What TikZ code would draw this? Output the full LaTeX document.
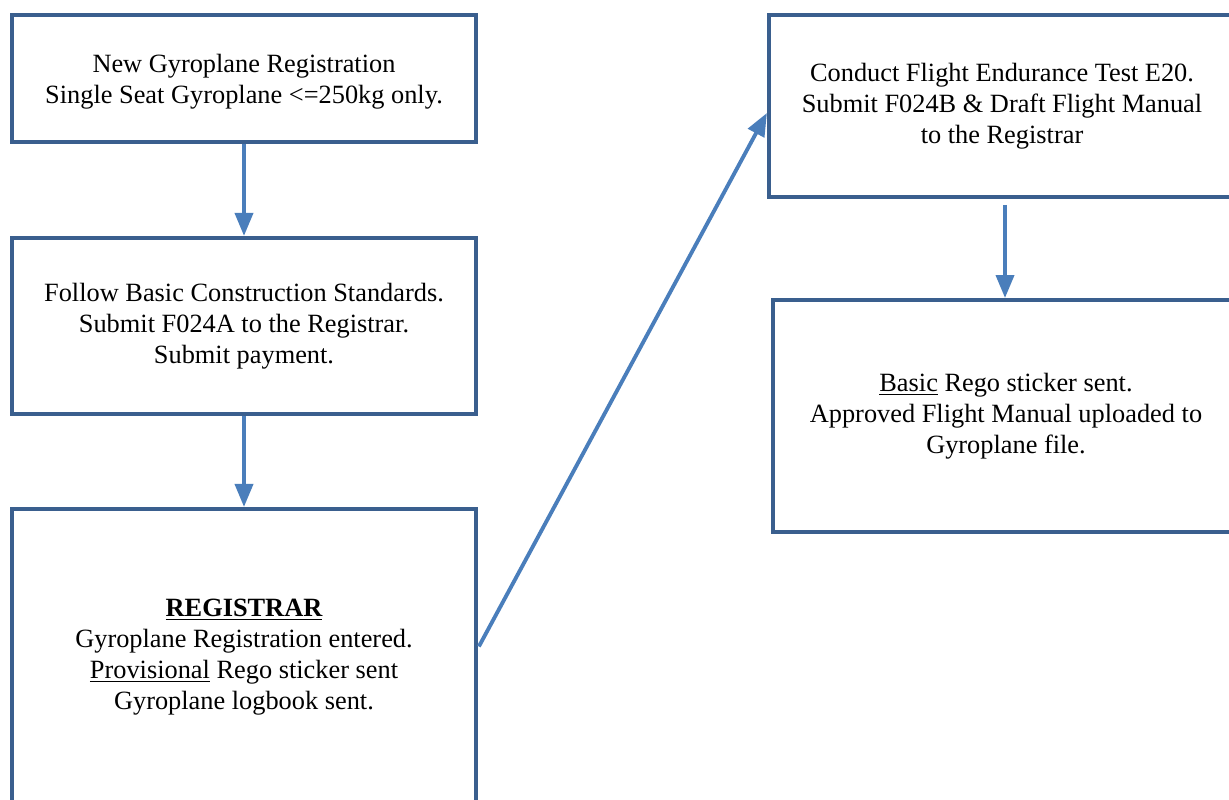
\documentclass[tikz,border=0pt]{standalone}
\usepackage{fontspec}
\setmainfont{Liberation Serif}
\usetikzlibrary{arrows.meta}
\definecolor{boxblue}{HTML}{3A5F8E}
\definecolor{arrowblue}{HTML}{4A7EBB}
\tikzset{
  stepbox/.style={draw=boxblue, line width=2.4pt, align=center, inner sep=0pt,
    font=\fontsize{15}{17.6}\selectfont},
  flow/.style={draw=arrowblue, line width=2.2pt, -{Triangle[length=4.6mm,width=3.6mm]}}
}

\begin{document}
\begin{tikzpicture}[x=0.02cm,y=-0.02cm]
				\useasboundingbox (0,0) rectangle (1229,800);
				\clip (0,0) rectangle (1229,800);
				
				% left column
				\node[stepbox, minimum width=9.28cm, minimum height=2.54cm, text depth=-0.1cm] (new) at (244,78.5)
					{New Gyroplane Registration\\Single Seat Gyroplane <=250kg only.};
				\node[stepbox, minimum width=9.28cm, minimum height=3.52cm] (build) at (244,326)
					{Follow Basic Construction Standards.\\Submit F024A to the Registrar.\\Submit payment.};
				\node[stepbox, minimum width=9.28cm, minimum height=5.92cm] (reg) at (244,657)
					{\textbf{\underline{REGISTRAR}}\\Gyroplane Registration entered.\\\underline{Provisional} Rego sticker sent\\Gyroplane logbook sent.};
				
				% right column
				\node[stepbox, minimum width=9.32cm, minimum height=3.64cm] (test) at (1002,106)
					{Conduct Flight Endurance Test E20.\\Submit F024B \& Draft Flight Manual\\to the Registrar};
				\node[stepbox, minimum width=9.32cm, minimum height=4.64cm] (basic) at (1006,416)
					{\underline{Basic} Rego sticker sent.\\Approved Flight Manual uploaded to\\Gyroplane file.};
				
				\draw[flow] (new.south) -- (build.north);
				\draw[flow] (build.south) -- (reg.north);
				\draw[flow, shorten <=1pt] ([yshift=0.18cm]reg.east) -- ([yshift=-0.14cm]test.west);
				\draw[flow, shorten <=0.16cm] (1005,197) -- (1005,298);
			\end{tikzpicture}
\end{document}
